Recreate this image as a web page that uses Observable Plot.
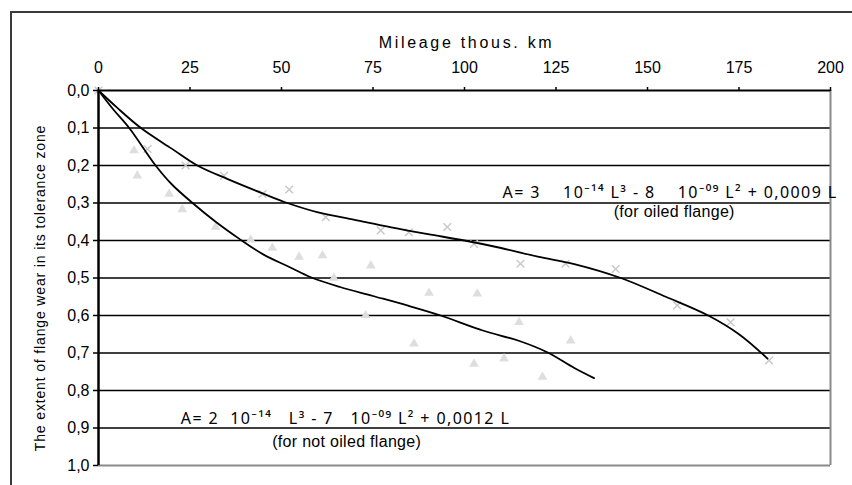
<!DOCTYPE html>
<html>
<head>
<meta charset="utf-8">
<script src="https://cdn.jsdelivr.net/npm/d3@7"></script>
<script src="https://cdn.jsdelivr.net/npm/@observablehq/plot@0.6"></script>
<style>
  html, body { margin: 0; padding: 0; background: #fff; overflow: hidden; }
  #wrap { position: relative; width: 852px; height: 485px; }
  #box { position: absolute; left: 10px; top: 11px; width: 900px; height: 600px;
         border-left: 2px solid #3a3a3a; border-top: 2px solid #3a3a3a; }
  #chart { position: absolute; left: 0; top: 0; }
</style>
</head>
<body>
<div id="wrap"><div id="box"></div><div id="chart"></div></div>
<script>
// Axis ticks
const xTicks = [0, 25, 50, 75, 100, 125, 150, 175, 200];
const yTicks = [0, 0.1, 0.2, 0.3, 0.4, 0.5, 0.6, 0.7, 0.8, 0.9, 1.0];
const gridY = [0.1, 0.2, 0.3, 0.4, 0.5, 0.6, 0.7, 0.8, 0.9];

// Fitted curve: oiled flange
const oiledCurveX = [0, 5, 11.6, 20, 27, 35, 45, 51.6, 60, 70, 80, 90, 100, 110, 120, 130, 142.7, 155, 166.6, 175, 182.8];
const oiledCurveY = [0, 0.045, 0.1, 0.155, 0.2, 0.235, 0.275, 0.3, 0.325, 0.345, 0.365, 0.383, 0.4, 0.42, 0.443, 0.463, 0.5, 0.55, 0.6, 0.65, 0.715];

// Fitted curve: not oiled flange
const dryCurveX = [0, 4, 8.4, 15.6, 20, 25.7, 32, 38.4, 45, 52, 58, 66, 75, 85, 93.5, 105, 115, 122.6, 130, 135.4];
const dryCurveY = [0, 0.05, 0.1, 0.2, 0.25, 0.3, 0.35, 0.395, 0.437, 0.47, 0.498, 0.524, 0.548, 0.575, 0.6, 0.64, 0.668, 0.698, 0.74, 0.767];

// Measured points: oiled flange (x marks)
const oiledPtX = [0, 13.4, 23.8, 34.3, 44.8, 52.1, 62.1, 77.1, 84.8, 95.3, 102.6, 115.3, 127.6, 141.3, 158.1, 172.7, 183.2];
const oiledPtY = [0, 0.156, 0.2, 0.227, 0.276, 0.264, 0.338, 0.373, 0.378, 0.364, 0.409, 0.462, 0.462, 0.476, 0.573, 0.618, 0.72];

// Measured points: not oiled flange (triangles)
const dryPtX = [9.7, 10.6, 19.3, 22.9, 32, 41.6, 47.5, 54.8, 61.2, 64.3, 74.4, 73, 90.3, 103.5, 86.2, 114.9, 129, 102.6, 110.8, 121.3];
const dryPtY = [0.16, 0.227, 0.276, 0.317, 0.364, 0.398, 0.42, 0.444, 0.44, 0.5, 0.467, 0.6, 0.54, 0.542, 0.675, 0.618, 0.667, 0.729, 0.715, 0.764];

// Annotations (data positions)
const S = "\u00A0";
const formulaText = [
  "A=" + S + "3" + S.repeat(4) + "10⁻¹⁴" + S + "L³" + S + "-" + S + "8" + S.repeat(4) + "10⁻⁰⁹" + S + "L²" + S + "+" + S + "0,0009" + S + "L",
  "A=" + S + "2" + S.repeat(2) + "10⁻¹⁴" + S.repeat(3) + "L³" + S + "-" + S + "7" + S.repeat(3) + "10⁻⁰⁹" + S + "L²" + S + "+" + S + "0,0012" + S + "L"
];
const formulaX = [110.4, 22.5];
const formulaY = [0.272, 0.875];
const captionText = ["(for oiled flange)", "(for not oiled flange)"];
const captionX = [157.3, 67.8];
const captionY = [0.324, 0.937];

const xTitle = "Mileage thous. km";
const yTitle = "The extent of flange wear in its tolerance zone";

const zip = (xs, ys) => xs.map((x, i) => ({x, y: ys[i]}));
const oiledCurve = zip(oiledCurveX, oiledCurveY);
const dryCurve = zip(dryCurveX, dryCurveY);
const oiledPts = zip(oiledPtX, oiledPtY);
const dryPts = zip(dryPtX, dryPtY);
const formulas = formulaText.map((t, i) => ({t, x: formulaX[i], y: formulaY[i]}));
const captions = captionText.map((t, i) => ({t, x: captionX[i], y: captionY[i]}));

const fmt = d => d.toFixed(1).replace(".", ",");

const chart = Plot.plot({
  width: 852,
  height: 485,
  marginLeft: 98,
  marginRight: 22,
  marginTop: 90,
  marginBottom: 20,
  style: {fontFamily: "Arial, 'Liberation Sans', sans-serif", fontSize: "16px", color: "#000", background: "transparent", overflow: "visible"},
  x: {domain: [0, 200]},
  y: {domain: [0, 1], reverse: true},
  marks: [
    Plot.ruleY(gridY, {stroke: "#000", strokeWidth: 1.6}),
    Plot.ruleY([1], {stroke: "#8a8a8a", strokeWidth: 2}),
    Plot.ruleX([200], {stroke: "#8a8a8a", strokeWidth: 2}),
    Plot.dot(dryPts, {x: "x", y: "y", symbol: "triangle", r: 3.6, fill: "#dedede", stroke: "none"}),
    Plot.dot(oiledPts, {x: "x", y: "y", symbol: "times", r: 3.6, stroke: "#c8c8c8", strokeWidth: 1.4}),
    Plot.line(oiledCurve, {x: "x", y: "y", curve: "catmull-rom", stroke: "#000", strokeWidth: 1.8}),
    Plot.line(dryCurve, {x: "x", y: "y", curve: "catmull-rom", stroke: "#000", strokeWidth: 1.8}),
    Plot.ruleY([0], {stroke: "#000", strokeWidth: 2}),
    Plot.ruleX([0], {stroke: "#000", strokeWidth: 2.5}),
    Plot.axisX({anchor: "top", ticks: xTicks, tickSize: 4, tickPadding: 14, label: null, tickFormat: d => String(d), stroke: "#000", strokeWidth: 1.5, fontSize: 16}),
    Plot.axisY({anchor: "left", ticks: yTicks, tickSize: 5, tickPadding: 4, label: null, tickFormat: fmt, stroke: "#000", strokeWidth: 1.5, fontSize: 16}),
    Plot.text([xTitle], {frameAnchor: "top", dy: -48, dx: 2, fontSize: 16, lineAnchor: "middle", textAnchor: "middle"}),
    Plot.text([yTitle], {frameAnchor: "left", dx: -58, dy: 10, rotate: -90, fontSize: 14, lineAnchor: "middle", textAnchor: "middle"}),
    Plot.text(formulas, {x: "x", y: "y", text: "t", textAnchor: "start", fontSize: 16, lineAnchor: "middle", fontFamily: "'Noto Sans', Arial, sans-serif"}),
    Plot.text(captions, {x: "x", y: "y", text: "t", textAnchor: "middle", fontSize: 16, lineAnchor: "middle"})
  ]
});

// letter spacing to match the wide-set lettering of the reference
const spacing = new Map([
  [xTitle, 2.7],
  [yTitle, 0.85],
  [formulaText[0], 1.4],
  [formulaText[1], 1.4],
  [captionText[0], 0.3],
  [captionText[1], 0.3]
]);
d3.select(chart).selectAll("text").each(function () {
  const ls = spacing.get(this.textContent);
  if (ls != null) this.style.letterSpacing = ls + "px";
});
document.getElementById("chart").appendChild(chart);
</script>
</body>
</html>
